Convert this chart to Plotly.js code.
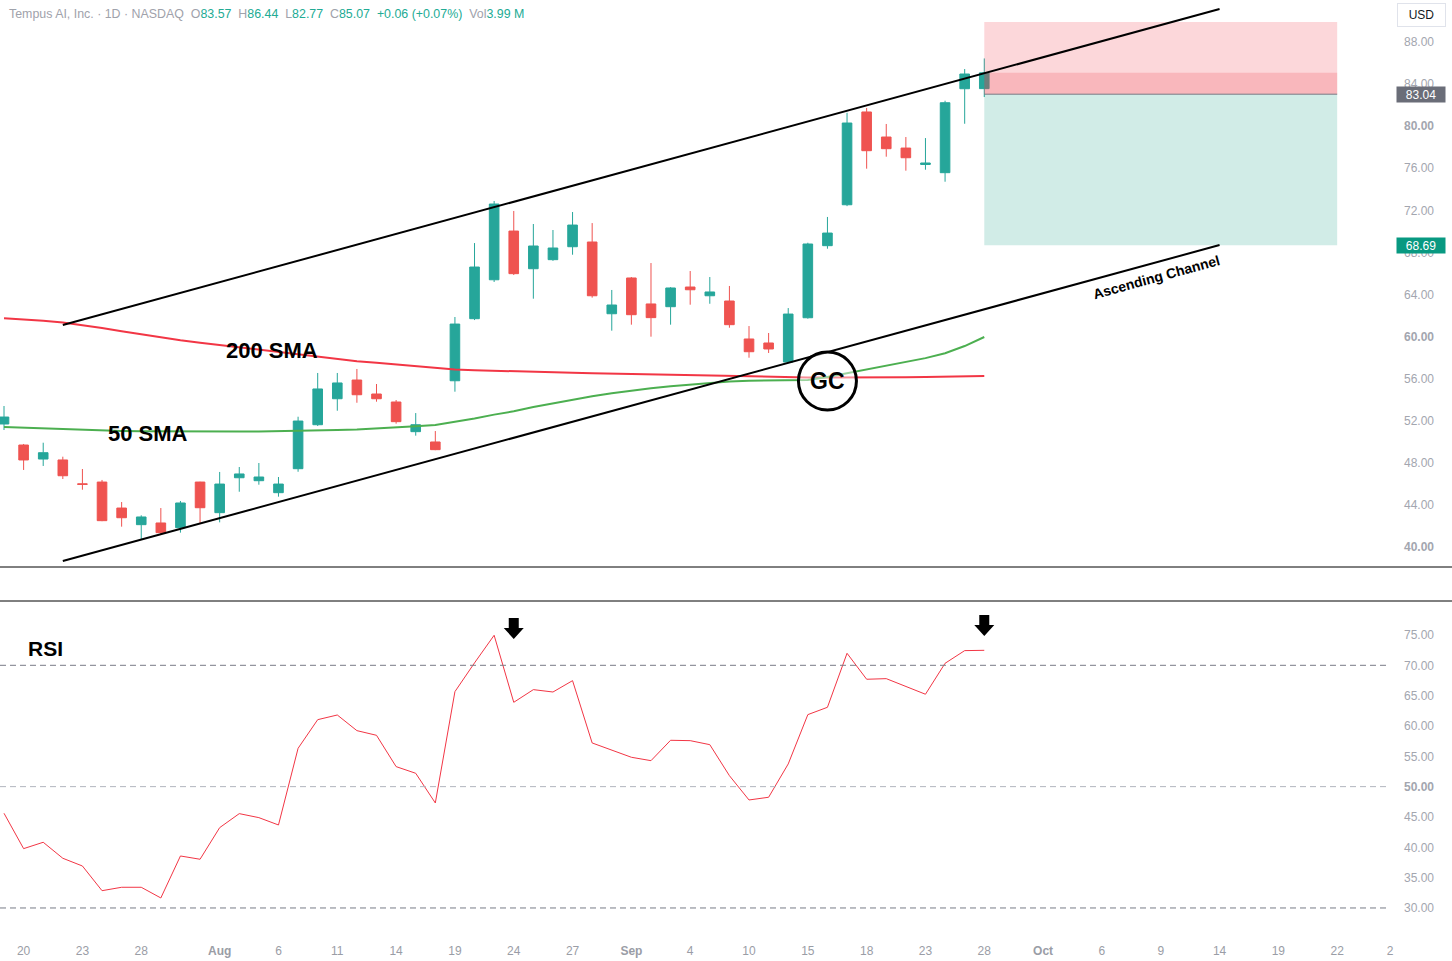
<!DOCTYPE html>
<html><head><meta charset="utf-8">
<script src="https://cdn.plot.ly/plotly-3.0.1.min.js"></script>
<style>html,body{margin:0;padding:0;background:#fff;overflow:hidden}#chart{width:1452px;height:961px}</style>
</head><body><div id="chart"></div>
<script>
// ---------- DATA ----------
const barIndex = [0,1,2,3,4,5,6,7,8,9,10,11,12,13,14,15,16,17,18,19,20,21,22,23,24,25,26,27,28,29,30,31,32,33,34,35,36,37,38,39,40,41,42,43,44,45,46,47,48,49,50];
const openP  = [51.69,49.69,48.36,48.27,46.00,46.17,43.70,42.12,42.28,41.83,46.17,43.26,46.58,46.30,45.16,47.44,51.62,54.09,55.87,54.54,53.78,50.96,49.98,55.80,61.70,65.40,70.03,66.45,67.31,68.54,68.99,62.17,65.57,63.10,62.84,64.71,63.88,63.38,59.77,59.39,57.58,61.79,68.64,72.53,81.35,78.97,77.92,76.36,75.58,83.56,83.57];
const highP  = [53.40,49.79,49.91,48.58,47.41,46.37,44.27,43.01,43.70,44.37,46.20,47.13,47.60,47.98,46.65,52.38,56.54,56.54,56.92,55.49,53.97,52.73,51.02,61.86,68.89,72.89,71.94,70.70,70.13,71.84,70.79,64.43,65.66,66.99,64.70,66.23,65.66,64.81,61.00,60.34,62.71,68.92,71.37,81.28,81.73,80.21,78.97,78.87,82.42,85.43,86.44];
const lowP   = [51.12,47.32,47.70,46.46,45.44,42.45,41.93,40.76,41.14,41.36,42.18,42.34,45.25,45.92,44.78,47.15,51.50,52.95,53.71,53.81,51.72,50.58,49.20,54.76,61.57,65.19,65.85,63.60,67.20,67.78,63.70,60.56,61.13,59.99,61.13,63.03,63.12,60.84,57.99,58.44,57.50,61.70,68.35,72.40,75.96,77.10,75.77,75.86,74.72,80.23,82.77];
const closeP = [52.35,48.27,48.96,46.77,45.95,42.50,42.78,42.85,41.36,44.18,43.73,45.98,46.94,46.65,45.98,51.97,55.02,55.59,54.47,54.09,51.91,51.62,49.25,61.19,66.61,72.60,65.98,68.61,68.42,70.60,63.88,63.00,62.08,61.80,64.62,64.45,64.24,61.13,58.56,58.82,62.14,68.80,69.84,80.30,77.67,77.86,77.00,76.50,82.23,84.96,85.07];
const sma200 = [61.74,61.65,61.50,61.34,61.10,60.81,60.50,60.20,59.89,59.65,59.42,59.20,58.98,58.75,58.53,58.30,58.05,57.82,57.65,57.50,57.34,57.18,57.02,56.87,56.80,56.74,56.68,56.64,56.60,56.56,56.52,56.48,56.44,56.40,56.36,56.32,56.28,56.23,56.18,56.15,56.13,56.11,56.10,56.09,56.09,56.11,56.13,56.16,56.19,56.22,56.25];
const sma50  = [51.40,51.33,51.26,51.20,51.13,51.07,51.03,51.00,50.98,50.97,50.96,50.96,50.97,50.98,51.00,51.02,51.06,51.11,51.16,51.25,51.38,51.48,51.60,51.88,52.21,52.58,52.90,53.30,53.65,54.00,54.33,54.62,54.87,55.08,55.28,55.45,55.60,55.72,55.80,55.84,55.83,55.88,56.15,56.50,56.88,57.22,57.55,57.95,58.42,59.10,59.96];
const rsi    = [45.61,39.78,40.83,38.19,36.92,32.85,33.41,33.41,31.65,38.57,38.03,43.24,45.55,44.89,43.68,56.32,61.04,61.81,59.23,58.46,53.30,52.20,47.31,65.66,70.40,74.95,63.90,65.99,65.60,67.47,57.20,56.00,54.84,54.28,57.64,57.58,56.92,51.81,47.80,48.25,53.74,61.87,63.08,71.98,67.70,67.80,66.48,65.23,70.33,72.42,72.47];

// x-axis tick labels (bar positions)
const xTickPos  = [1,4,7,11,14,17,20,23,26,29,32,35,38,41,44,47,50,53,56,59,62,65,68,70.7];
const xTickText = ['20','23','28','<b>Aug</b>','6','11','14','19','24','27','<b>Sep</b>','4','10','15','18','23','28','<b>Oct</b>','6','9','14','19','22','2'];
const priceTicks = [40,44,48,52,56,60,64,68,72,76,80,84,88];
const priceTickText = ['<b>40.00</b>','44.00','48.00','52.00','56.00','<b>60.00</b>','64.00','68.00','72.00','76.00','<b>80.00</b>','84.00','88.00'];
const rsiTicks = [30,35,40,45,50,55,60,65,70,75];
const rsiTickText = ['30.00','35.00','40.00','45.00','<b>50.00</b>','55.00','60.00','65.00','70.00','75.00'];
const rsiLevels = [70,50,30];

// drawings
const channelX = [3,62];
const channelUpper = [61.10,91.14];
const channelLower = [38.67,68.70];
const positionX = [50,68];
const stopPrice = 89.90;
const entryPrice = 83.04;
const targetPrice = 68.69;
const lastClose = 85.07;
const arrowBars = [26,50];
const arrowRsi = [74.34,74.84];
const gcPoint = [42,55.78];

// header
const headerName = 'Tempus AI, Inc. · 1D · NASDAQ';
const headerLabels = ['O','H','L','C'];
const headerValues = ['83.57','86.44','82.77','85.07'];
const headerChange = '+0.06 (+0.07%)';
const headerVol = '3.99 M';

// ---------- STYLE ----------
const UP='#26a69a', DN='#ef5350', TEAL='#22ab94', GREY='#a3a6af';
const FONT='Liberation Sans, Arial, sans-serif';
const W=1452,H=961,ML=0,MR=56,MT=0,MB=23;
const PW=W-ML-MR, PH=H-MT-MB;
const py = p => (PH - p)/PH; // pixel-from-top -> paper y

const traces = [
  {type:'candlestick', x:barIndex, open:openP, high:highP, low:lowP, close:closeP,
   increasing:{line:{color:UP,width:1},fillcolor:UP}, decreasing:{line:{color:DN,width:1},fillcolor:DN},
   whiskerwidth:0, xaxis:'x', yaxis:'y', hoverinfo:'skip', showlegend:false},
  {type:'scatter', mode:'lines', x:barIndex, y:sma200, line:{color:'#f23645',width:2}, xaxis:'x', yaxis:'y', hoverinfo:'skip', showlegend:false},
  {type:'scatter', mode:'lines', x:barIndex, y:sma50, line:{color:'#4caf50',width:2}, xaxis:'x', yaxis:'y', hoverinfo:'skip', showlegend:false},
  // position tool
  {type:'scatter', mode:'lines', x:[positionX[0],positionX[1],positionX[1],positionX[0],positionX[0]],
   y:[entryPrice,entryPrice,stopPrice,stopPrice,entryPrice], fill:'toself', fillcolor:'rgba(242,54,69,0.2)', line:{width:0}, xaxis:'x', yaxis:'y', hoverinfo:'skip', showlegend:false},
  {type:'scatter', mode:'lines', x:[positionX[0],positionX[1],positionX[1],positionX[0],positionX[0]],
   y:[entryPrice,entryPrice,lastClose,lastClose,entryPrice], fill:'toself', fillcolor:'rgba(242,54,69,0.2)', line:{width:0}, xaxis:'x', yaxis:'y', hoverinfo:'skip', showlegend:false},
  {type:'scatter', mode:'lines', x:[positionX[0],positionX[1],positionX[1],positionX[0],positionX[0]],
   y:[entryPrice,entryPrice,targetPrice,targetPrice,entryPrice], fill:'toself', fillcolor:'rgba(8,153,129,0.19)', line:{width:0}, xaxis:'x', yaxis:'y', hoverinfo:'skip', showlegend:false},
  {type:'scatter', mode:'lines', x:positionX, y:[entryPrice,entryPrice], line:{color:'#787b86',width:1}, xaxis:'x', yaxis:'y', hoverinfo:'skip', showlegend:false},
  // channel
  {type:'scatter', mode:'lines', x:channelX, y:channelUpper, line:{color:'#000',width:2}, xaxis:'x', yaxis:'y', hoverinfo:'skip', showlegend:false},
  {type:'scatter', mode:'lines', x:channelX, y:channelLower, line:{color:'#000',width:2}, xaxis:'x', yaxis:'y', hoverinfo:'skip', showlegend:false},
  // RSI
  {type:'scatter', mode:'lines', x:barIndex, y:rsi, line:{color:'#f23645',width:1}, xaxis:'x', yaxis:'y2', hoverinfo:'skip', showlegend:false}
];

const shapes = [
  {type:'line', xref:'paper', yref:'paper', x0:0, x1:W/PW, y0:py(567), y1:py(567), line:{color:'#000',width:1}},
  {type:'line', xref:'paper', yref:'paper', x0:0, x1:W/PW, y0:py(601), y1:py(601), line:{color:'#000',width:1}},
  {type:'circle', xref:'x', yref:'y', xsizemode:'pixel', ysizemode:'pixel', xanchor:gcPoint[0], yanchor:gcPoint[1],
   x0:-29, x1:29, y0:-29, y1:29, line:{color:'#000',width:3}, fillcolor:'rgba(255,255,255,0.45)', layer:'above'}
];
rsiLevels.forEach(l => shapes.push({type:'line', xref:'paper', yref:'y2', x0:0, x1:1389/PW, y0:l, y1:l,
  line:{color: l===50 ? '#b2b5be' : '#787b86', width:1, dash:'6px,4px'}}));
arrowBars.forEach((b,i) => shapes.push({type:'path', xref:'x', yref:'y2', xsizemode:'pixel', ysizemode:'pixel',
  xanchor:b, yanchor:arrowRsi[i], path:'M 0 0 L -10 11 L -5 11 L -5 21 L 5 21 L 5 11 L 10 11 Z',
  fillcolor:'#000', line:{width:0}}));

let headerHtml = `<span style="color:#9fa2ab">${headerName}</span>`;
headerLabels.forEach((l,i)=>{ headerHtml += `&nbsp;&nbsp;<span style="color:#9fa2ab">${l}</span><span style="color:${TEAL}">${headerValues[i]}</span>`; });
headerHtml += `&nbsp;&nbsp;<span style="color:${TEAL}">${headerChange}</span>&nbsp;&nbsp;<span style="color:#9fa2ab">Vol</span><span style="color:${TEAL}">${headerVol}</span>`;

const annotations = [
  {xref:'paper', yref:'paper', x:7/PW, y:py(14), xanchor:'left', yanchor:'middle', showarrow:false, text:headerHtml, font:{family:FONT,size:12.4}},
  {xref:'paper', yref:'paper', x:1421.5/PW, y:py(15), xanchor:'center', yanchor:'middle', showarrow:false, text:'USD',
   font:{family:FONT,size:12,color:'#131722'}, bordercolor:'#e0e3eb', borderwidth:1, width:45, height:20, bgcolor:'#fff'},
  {xref:'paper', yref:'y', x:1, y:entryPrice, xanchor:'left', yanchor:'middle', showarrow:false, text:entryPrice.toFixed(2),
   font:{family:FONT,size:12,color:'#fff'}, bgcolor:'#6a6d78', width:45, height:12, borderpad:1.5},
  {xref:'paper', yref:'y', x:1, y:targetPrice, xanchor:'left', yanchor:'middle', showarrow:false, text:targetPrice.toFixed(2),
   font:{family:FONT,size:12,color:'#fff'}, bgcolor:'#089981', width:45, height:12, borderpad:1.5},
  {xref:'x', yref:'y', x:11.2, y:58.63, xanchor:'left', yanchor:'middle', showarrow:false, text:'<b>200 SMA</b>', font:{family:FONT,size:22,color:'#000'}},
  {xref:'x', yref:'y', x:5.2, y:50.74, xanchor:'left', yanchor:'middle', showarrow:false, text:'<b>50 SMA</b>', font:{family:FONT,size:22,color:'#000'}},
  {xref:'x', yref:'y2', x:1.1, y:72.69, xanchor:'left', yanchor:'middle', showarrow:false, text:'<b>RSI</b>', font:{family:FONT,size:21,color:'#000'}},
  {xref:'x', yref:'y', x:gcPoint[0], y:gcPoint[1], xanchor:'center', yanchor:'middle', showarrow:false, text:'<b>GC</b>', font:{family:FONT,size:23,color:'#000'}},
  {xref:'x', yref:'y', x:58.8, y:65.66, xanchor:'center', yanchor:'middle', showarrow:false, textangle:-15.3, text:'<b>Ascending Channel</b>', font:{family:FONT,size:14,color:'#000'}}
];

const layout = {
  width:W, height:H, margin:{l:ML,r:MR,t:MT,b:MB,pad:0},
  paper_bgcolor:'#fff', plot_bgcolor:'#fff', showlegend:false, dragmode:false,
  font:{family:FONT,size:12,color:GREY},
  xaxis:{range:[-0.204,71], anchor:'y2', showgrid:false, zeroline:false, showline:false, ticks:'',
    tickmode:'array', tickvals:xTickPos, ticktext:xTickText, ticklabelstandoff:4, tickfont:{family:FONT,size:12,color:'#9a9da6'},
    rangeslider:{visible:false}, fixedrange:true},
  yaxis:{domain:[py(567),1], range:[38.095,91.995], side:'right', showgrid:false, zeroline:false, showline:false, ticks:'',
    tickmode:'array', tickvals:priceTicks, ticktext:priceTickText, ticklabelstandoff:7, tickfont:{family:FONT,size:12,color:GREY}, fixedrange:true},
  yaxis2:{domain:[0,py(601)], range:[25.05,80.60], side:'right', anchor:'x', showgrid:false, zeroline:false, showline:false, ticks:'',
    tickmode:'array', tickvals:rsiTicks, ticktext:rsiTickText, ticklabelstandoff:7, tickfont:{family:FONT,size:12,color:GREY}, fixedrange:true},
  shapes, annotations
};
Plotly.newPlot('chart', traces, layout, {displayModeBar:false, staticPlot:true});
</script></body></html>
